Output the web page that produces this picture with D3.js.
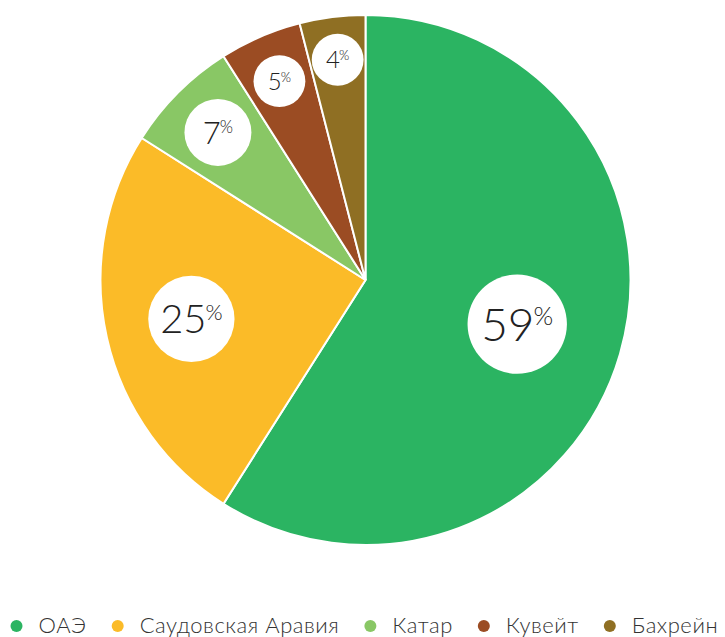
<!DOCTYPE html>
<html>
<head>
<meta charset="utf-8">
<script src="https://cdn.jsdelivr.net/npm/d3@7"></script>
<style>
  html, body { margin: 0; padding: 0; background: #fff; }
  svg { display: block; font-family: Lato, "Open Sans", sans-serif; }
</style>
</head>
<body>
<svg id="chart" width="725" height="637"></svg>
<script>
const countries = ["ОАЭ", "Саудовская Аравия", "Катар", "Кувейт", "Бахрейн"];
const shares = [59, 25, 7, 5, 4];
const colors = ["#2bb462", "#fbbb28", "#89c765", "#9b4c23", "#8f6f23"];

const W = 725, H = 637;
const cx = 365.5, cy = 280, R = 265;
const svg = d3.select("#chart");

const data = countries.map((c, i) => ({ name: c, value: shares[i], color: colors[i] }));
const pie = d3.pie().sort(null).value(d => d.value);
const arcs = pie(data);
const arc = d3.arc().innerRadius(0).outerRadius(R);

const fontScale = d3.scaleLog().domain([5, 7, 59]).range([24, 31, 46]).clamp(true);
const distScale = d3.scaleLog().domain([4, 59]).range([222, 158]);

const g = svg.append("g").attr("transform", `translate(${cx},${cy})`);

const defs = svg.append("defs");
arcs.forEach((a, i) => {
  defs.append("clipPath").attr("id", "clip" + i)
    .append("path").attr("d", arc(a));
});

g.selectAll("path.slice").data(arcs).join("path")
  .attr("class", "slice")
  .attr("d", arc)
  .attr("fill", d => d.data.color)
  .attr("stroke", "#fff")
  .attr("stroke-width", 2);

const labels = g.selectAll("g.lbl").data(arcs).join("g")
  .attr("class", "lbl")
  .attr("clip-path", (d, i) => `url(#clip${i})`);

labels.each(function(d) {
  const mid = (d.startAngle + d.endAngle) / 2;
  const dist = distScale(d.data.value);
  const x = dist * Math.sin(mid), y = -dist * Math.cos(mid);
  const fs = fontScale(d.data.value);
  const sel = d3.select(this);
  sel.append("circle").attr("cx", x).attr("cy", y).attr("r", fs * 1.08).attr("fill", "#fff");
  const t = sel.append("text")
    .attr("x", x).attr("y", y + fs * 0.36)
    .attr("text-anchor", "middle")
    .attr("fill", "#222")
    .style("font-weight", 300)
    .style("font-size", fs + "px");
  t.append("tspan").text(d.data.value);
  t.append("tspan").text("%")
    .style("font-size", (fs * 0.55) + "px")
    .attr("dx", -1)
    .attr("dy", -fs * 0.34);
});

// Legend
const legend = svg.append("g").attr("class", "legend");
let lx = 16.5;
const ly = 633;
data.forEach(d => {
  legend.append("circle").attr("cx", lx).attr("cy", 626).attr("r", 6).attr("fill", d.color);
  const t = legend.append("text")
    .attr("x", lx + 22).attr("y", ly)
    .attr("fill", "#333")
    .style("font-size", "22px")
    .style("letter-spacing", "0.55px")
    .style("font-weight", 300)
    .text(d.name);
  const w = t.node().getComputedTextLength();
  lx = lx + 22 + w + 31;
});
</script>
</body>
</html>
